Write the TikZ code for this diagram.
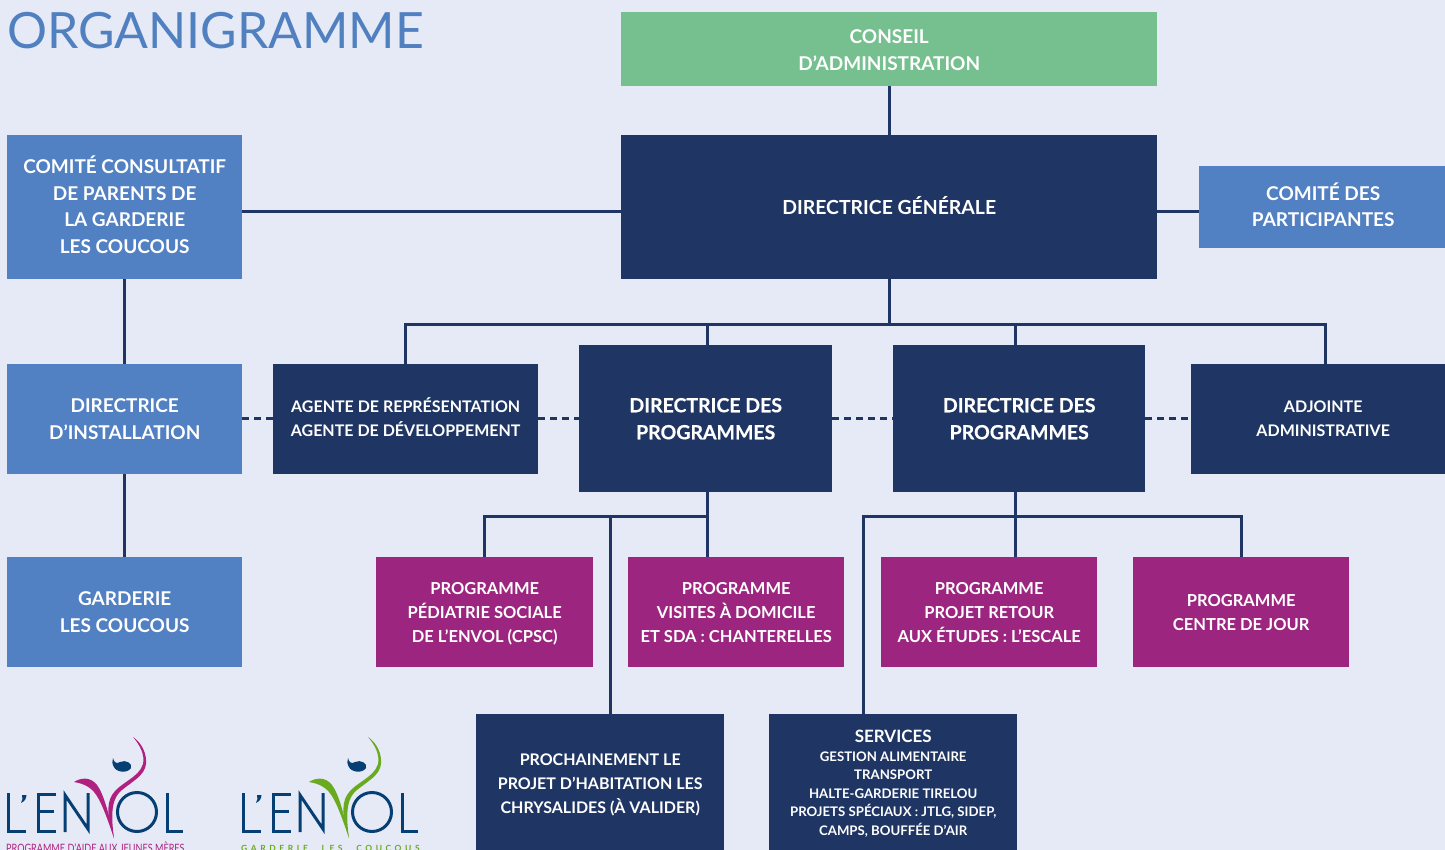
\documentclass[tikz,border=0pt]{standalone}
\usepackage{fontspec}
\setmainfont{Lato}
\definecolor{bgc}{HTML}{E6EAF7}
\definecolor{navy}{HTML}{1F3564}
\definecolor{midb}{HTML}{5180C3}
\definecolor{grn}{HTML}{76C08F}
\definecolor{mag}{HTML}{9C267F}
\definecolor{titlec}{HTML}{5080C0}
\definecolor{logob}{HTML}{053F73}
\definecolor{logom}{HTML}{B0217F}
\definecolor{logog}{HTML}{6AAA1E}
\newcommand{\dn}[1]{\rule[-#1pt]{0pt}{0pt}}
\newcommand{\hgt}[1]{\rule{0pt}{#1pt}}
\tikzset{
 x=1pt,y=-1pt,
 box/.style={draw=none,align=center,inner sep=0pt,text=white,font=\fontsize{19}{26.5}\selectfont\bfseries},
 navybox/.style={box,fill=navy},
 bluebox/.style={box,fill=midb},
 magbox/.style={box,fill=mag,font=\fontsize{16.5}{24}\selectfont\bfseries},
 smallnavy/.style={navybox,font=\fontsize{16}{24}\selectfont\bfseries},
 heavynavy/.style={navybox,font=\fontsize{19.5}{27}\selectfont\bfseries\addfontfeature{FakeBold=0.4}},
 link/.style={draw=navy,line width=3pt},
 dlink/.style={link,dash pattern=on 7pt off 5pt},
 logostroke/.style={draw=logob,line width=3pt,fill=none},
}
\newcommand{\nb}[7]{\node[#2,minimum width=#5 pt-#3 pt,minimum height=#6 pt-#4 pt,anchor=north west] (#1) at (#3,#4) {#7};}
\newcommand{\logo}[2]{%
 \begin{scope}[shift={(#1,0)}]
 \draw[logostroke] (8,793) -- (8,831) -- (26,831);
 \fill[logob] (22,795) -- (26.5,795) .. controls (26,799) and (25,801) .. (21,803) .. controls (22.5,800) and (23,798) .. (22,795) -- cycle;
 \draw[logostroke] (56,794) -- (38,794) -- (38,831) -- (56,831) (38,811) -- (54,811);
 \draw[logostroke] (65,832) -- (65,795) -- (88,829) -- (88,793);
 \draw[logostroke] (137,812) circle[radius=19.5];
 \draw[logostroke] (167,793) -- (167,831) -- (183,831);
 \fill[#2] (74,782) .. controls (80,778) and (90,776) .. (97,785) .. controls (104,794) and (110,818) .. (114,838) .. controls (107,818) and (101,800) .. (94,792) .. controls (88,785) and (80,783) .. (74,782) -- cycle;
 \fill[#2] (133,737) .. controls (142,743) and (147,754) .. (146,764) .. controls (145,775) and (133,781) .. (122,790) .. controls (113,797) and (110,810) .. (114,838) .. controls (108,820) and (106,805) .. (112,795) .. controls (119,783) and (139,778) .. (143,764) .. controls (145,755) and (140,745) .. (133,737) -- cycle;
 \fill[logob] (113,758) .. controls (114,763) and (117,764) .. (120,762) .. controls (126,759) and (133,764) .. (131,768) .. controls (127,774) and (116,772) .. (114,767) .. controls (112,764) and (112,761) .. (113,758) -- cycle;
 \end{scope}}
\begin{document}
\begin{tikzpicture}
\useasboundingbox (0,0) rectangle (1445,850);
\fill[bgc] (0,0) rectangle (1445,850);
\clip (0,0) rectangle (1445,850);
% boxes
\nb{ca}{box,fill=grn}{621}{12}{1157}{86}{\hgt{16}CONSEIL\\D’ADMINISTRATION}
\nb{dg}{navybox,font=\fontsize{19.4}{26.5}\selectfont\bfseries}{621}{135}{1157}{279}{DIRECTRICE GÉNÉRALE\dn{3.5}}
\nb{cc}{bluebox}{7}{135}{242}{279}{COMITÉ CONSULTATIF\\DE PARENTS DE\\LA GARDERIE\\LES COUCOUS\dn{5}}
\nb{cp}{bluebox}{1199}{166}{1447}{248}{COMITÉ DES\\PARTICIPANTES\dn{5}}
\nb{di}{bluebox}{7}{364}{242}{474}{DIRECTRICE\\D’INSTALLATION}
\nb{gl}{bluebox}{7}{557}{242}{667}{GARDERIE\\LES COUCOUS}
\nb{ar}{smallnavy}{273}{364}{538}{474}{AGENTE DE REPRÉSENTATION\\AGENTE DE DÉVELOPPEMENT\dn{4}}
\nb{dp}{heavynavy}{579}{345}{832}{492}{DIRECTRICE DES\\PROGRAMMES}
\nb{dq}{heavynavy}{893}{345}{1145}{492}{DIRECTRICE DES\\PROGRAMMES}
\nb{aa}{smallnavy}{1191}{364}{1455}{474}{ADJOINTE\\ADMINISTRATIVE\dn{2}}
\nb{p1}{magbox}{376}{557}{593}{667}{\hgt{16}PROGRAMME\\PÉDIATRIE SOCIALE\\DE L’ENVOL (CPSC)}
\nb{p2}{magbox}{628}{557}{844}{667}{PROGRAMME\\VISITES À DOMICILE\\ET SDA : CHANTERELLES}
\nb{p3}{magbox}{881}{557}{1097}{667}{PROGRAMME\\PROJET RETOUR\\AUX ÉTUDES : L’ESCALE}
\nb{p4}{magbox}{1133}{557}{1349}{667}{PROGRAMME\\CENTRE DE JOUR}
\nb{ph}{smallnavy}{476}{714}{724}{864}{PROCHAINEMENT LE\\PROJET D’HABITATION LES\\CHRYSALIDES (À VALIDER)\dn{12}}
\node[navybox,minimum width=248pt,minimum height=150pt,anchor=north west,font=\fontsize{13.2}{18.5}\selectfont\bfseries] (sv) at (769,714) {{\fontsize{17}{20}\selectfont SERVICES}\\GESTION ALIMENTAIRE\\TRANSPORT\\HALTE-GARDERIE TIRELOU\\PROJETS SPÉCIAUX : JTLG, SIDEP,\\CAMPS, BOUFFÉE D’AIR\dn{13}};
% title
\node[anchor=west,inner sep=0pt,text=titlec,font=\fontsize{50}{50}\selectfont] (title) at (7,31) {ORGANIGRAMME};
% junction coordinates
\coordinate (j1) at (889,324);
\coordinate (j2) at (707,516);
% connectors
\draw[link] (ca.south) -- (dg.north);
\draw[link] (dg.south) -- (dg.south |- j1);
\draw[link] (ar.north) |- (1325,324) -- (1325,364);
\draw[link] (707,324) -- (707,345);
\draw[link] (1015,324) -- (1015,345);
\draw[link] (cc.east |- 0,212) -- (dg.west |- 0,212);
\draw[link] (dg.east |- 0,212) -- (cp.west |- 0,212);
\draw[link] (cc.south) -- (di.north);
\draw[link] (di.south) -- (gl.north);
\draw[dlink] (di.east |- 0,418) -- (ar.west |- 0,418);
\draw[dlink] (ar.east |- 0,418) -- (dp.west |- 0,418);
\draw[dlink] (dp.east |- 0,418) -- (dq.west |- 0,418);
\draw[dlink] (dq.east |- 0,418) -- (aa.west |- 0,418);
\draw[link] (707,492) -- (j2);
\draw[link] (484,557) |- (j2) -- (707,557);
\draw[link] (610,516) -- (610,714);
\draw[link] (1015,492) -- (1015,557);
\draw[link] (863,714) |- (1241,516) -- (1241,557);
% logos
\logo{0}{logom}
\logo{235}{logog}
\node[anchor=west,inner sep=0pt,text=logom,font=\fontsize{11.5}{12}\selectfont] (l1) at (6,847) {\scalebox{0.79}[1]{PROGRAMME D’AIDE AUX JEUNES MÈRES}};
\node[anchor=west,inner sep=0pt,text=logog,font=\fontsize{8.5}{9}\selectfont\bfseries\addfontfeature{LetterSpace=42}] (l2) at (241,848) {GARDERIE\hspace{8pt} LES\hspace{8pt} COUCOUS};
\end{tikzpicture}
\end{document}
